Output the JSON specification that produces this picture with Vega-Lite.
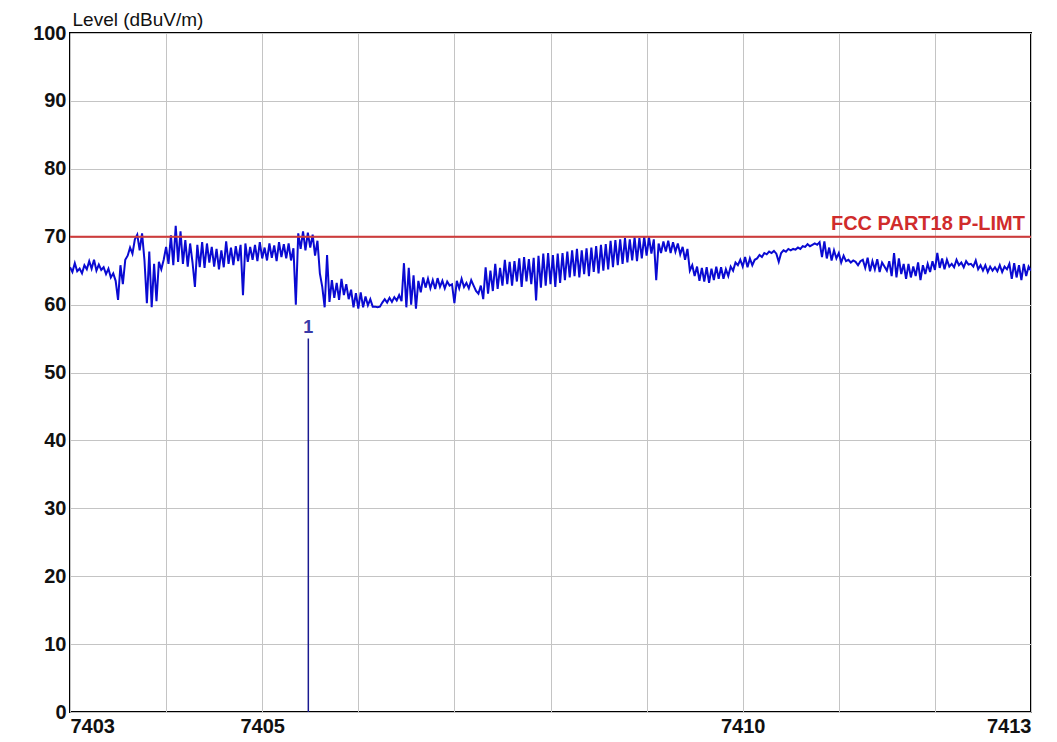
{
  "$schema": "https://vega.github.io/schema/vega-lite/v6.json",
  "width": 961,
  "height": 679,
  "autosize": {"type": "none"},
  "padding": {"left": 70, "top": 33, "right": 26, "bottom": 30},
  "background": "white",
  "config": {
    "view": {"stroke": "black", "strokeWidth": 2},
    "axis": {"labelFont": "Liberation Sans", "labelFontWeight": "bold", "labelFontSize": 20, "labelColor": "#111", "gridColor": "#c4c4c4", "gridWidth": 1, "gridOpacity": 1, "ticks": false, "domain": false}
  },
  "datasets": {
    "trace": [
{"f":7403.000,"v":65.5},{"f":7403.025,"v":64.8},{"f":7403.050,"v":66.1},{"f":7403.075,"v":64.9},
{"f":7403.100,"v":65.3},{"f":7403.125,"v":64.6},{"f":7403.150,"v":65.8},{"f":7403.175,"v":65.2},
{"f":7403.200,"v":66.4},{"f":7403.225,"v":65.3},{"f":7403.250,"v":66.6},{"f":7403.275,"v":65.0},
{"f":7403.300,"v":65.9},{"f":7403.325,"v":65.1},{"f":7403.350,"v":65.5},{"f":7403.375,"v":64.5},
{"f":7403.400,"v":65.3},{"f":7403.425,"v":64.0},{"f":7403.450,"v":64.6},{"f":7403.475,"v":63.5},
{"f":7403.500,"v":60.7},{"f":7403.525,"v":65.8},{"f":7403.550,"v":63.0},{"f":7403.575,"v":66.6},
{"f":7403.600,"v":67.2},{"f":7403.625,"v":68.4},{"f":7403.650,"v":67.5},{"f":7403.675,"v":69.6},
{"f":7403.700,"v":70.3},{"f":7403.725,"v":68.0},{"f":7403.750,"v":70.5},{"f":7403.775,"v":66.5},
{"f":7403.800,"v":60.2},{"f":7403.825,"v":67.8},{"f":7403.850,"v":59.6},{"f":7403.875,"v":66.0},
{"f":7403.900,"v":60.5},{"f":7403.925,"v":66.3},{"f":7403.950,"v":65.2},{"f":7403.975,"v":66.6},
{"f":7404.000,"v":68.5},{"f":7404.025,"v":66.0},{"f":7404.050,"v":70.2},{"f":7404.075,"v":65.8},
{"f":7404.100,"v":71.6},{"f":7404.125,"v":66.3},{"f":7404.150,"v":70.8},{"f":7404.175,"v":66.0},
{"f":7404.200,"v":69.5},{"f":7404.225,"v":65.6},{"f":7404.250,"v":69.0},{"f":7404.275,"v":66.2},
{"f":7404.300,"v":62.6},{"f":7404.325,"v":68.8},{"f":7404.350,"v":65.5},{"f":7404.375,"v":69.2},
{"f":7404.400,"v":65.4},{"f":7404.425,"v":69.0},{"f":7404.450,"v":66.2},{"f":7404.475,"v":68.5},
{"f":7404.500,"v":65.6},{"f":7404.525,"v":68.2},{"f":7404.550,"v":65.2},{"f":7404.575,"v":68.0},
{"f":7404.600,"v":65.5},{"f":7404.625,"v":69.3},{"f":7404.650,"v":66.0},{"f":7404.675,"v":68.4},
{"f":7404.700,"v":65.8},{"f":7404.725,"v":68.6},{"f":7404.750,"v":66.4},{"f":7404.775,"v":68.8},
{"f":7404.800,"v":61.4},{"f":7404.825,"v":69.0},{"f":7404.850,"v":66.3},{"f":7404.875,"v":68.5},
{"f":7404.900,"v":66.6},{"f":7404.925,"v":68.8},{"f":7404.950,"v":66.4},{"f":7404.975,"v":69.2},
{"f":7405.000,"v":66.8},{"f":7405.025,"v":68.4},{"f":7405.050,"v":66.5},{"f":7405.075,"v":69.0},
{"f":7405.100,"v":66.9},{"f":7405.125,"v":68.7},{"f":7405.150,"v":66.4},{"f":7405.175,"v":69.2},
{"f":7405.200,"v":67.0},{"f":7405.225,"v":68.9},{"f":7405.250,"v":66.8},{"f":7405.275,"v":69.0},
{"f":7405.300,"v":66.5},{"f":7405.325,"v":68.3},{"f":7405.350,"v":60.0},{"f":7405.375,"v":70.5},
{"f":7405.400,"v":68.2},{"f":7405.425,"v":70.8},{"f":7405.450,"v":68.0},{"f":7405.475,"v":70.6},
{"f":7405.500,"v":68.4},{"f":7405.525,"v":70.3},{"f":7405.550,"v":67.2},{"f":7405.575,"v":69.4},
{"f":7405.600,"v":64.6},{"f":7405.625,"v":62.6},{"f":7405.650,"v":59.6},{"f":7405.675,"v":67.3},
{"f":7405.700,"v":60.4},{"f":7405.725,"v":63.6},{"f":7405.750,"v":61.0},{"f":7405.775,"v":63.2},
{"f":7405.800,"v":60.7},{"f":7405.825,"v":63.8},{"f":7405.850,"v":61.4},{"f":7405.875,"v":63.0},
{"f":7405.900,"v":60.8},{"f":7405.925,"v":62.2},{"f":7405.950,"v":59.6},{"f":7405.975,"v":61.7},
{"f":7406.000,"v":59.4},{"f":7406.025,"v":61.8},{"f":7406.050,"v":59.6},{"f":7406.075,"v":61.2},
{"f":7406.100,"v":59.9},{"f":7406.125,"v":60.8},{"f":7406.150,"v":59.7},{"f":7406.175,"v":59.7},
{"f":7406.200,"v":59.6},{"f":7406.225,"v":59.7},{"f":7406.250,"v":60.3},{"f":7406.275,"v":60.8},
{"f":7406.300,"v":60.3},{"f":7406.325,"v":61.0},{"f":7406.350,"v":60.4},{"f":7406.375,"v":61.1},
{"f":7406.400,"v":60.6},{"f":7406.425,"v":61.4},{"f":7406.450,"v":60.5},{"f":7406.475,"v":66.1},
{"f":7406.500,"v":59.6},{"f":7406.525,"v":65.4},{"f":7406.550,"v":60.0},{"f":7406.575,"v":64.3},
{"f":7406.600,"v":59.4},{"f":7406.625,"v":63.5},{"f":7406.650,"v":61.8},{"f":7406.675,"v":64.0},
{"f":7406.700,"v":62.5},{"f":7406.725,"v":63.8},{"f":7406.750,"v":62.4},{"f":7406.775,"v":63.6},
{"f":7406.800,"v":62.3},{"f":7406.825,"v":63.9},{"f":7406.850,"v":62.6},{"f":7406.875,"v":63.5},
{"f":7406.900,"v":62.4},{"f":7406.925,"v":63.4},{"f":7406.950,"v":62.8},{"f":7406.975,"v":63.0},
{"f":7407.000,"v":60.2},{"f":7407.025,"v":63.5},{"f":7407.050,"v":62.4},{"f":7407.075,"v":63.8},
{"f":7407.100,"v":62.6},{"f":7407.125,"v":63.2},{"f":7407.150,"v":62.4},{"f":7407.175,"v":63.6},
{"f":7407.200,"v":62.8},{"f":7407.225,"v":62.0},{"f":7407.250,"v":61.6},{"f":7407.275,"v":62.8},
{"f":7407.300,"v":60.8},{"f":7407.325,"v":65.5},{"f":7407.350,"v":61.6},{"f":7407.375,"v":65.0},
{"f":7407.400,"v":62.0},{"f":7407.425,"v":66.0},{"f":7407.450,"v":62.3},{"f":7407.475,"v":65.4},
{"f":7407.500,"v":62.8},{"f":7407.525,"v":66.6},{"f":7407.550,"v":63.0},{"f":7407.575,"v":66.3},
{"f":7407.600,"v":62.8},{"f":7407.625,"v":66.4},{"f":7407.650,"v":63.4},{"f":7407.675,"v":66.8},
{"f":7407.700,"v":62.6},{"f":7407.725,"v":67.0},{"f":7407.750,"v":63.4},{"f":7407.775,"v":66.7},
{"f":7407.800,"v":63.0},{"f":7407.825,"v":66.9},{"f":7407.850,"v":60.6},{"f":7407.875,"v":67.2},
{"f":7407.900,"v":62.5},{"f":7407.925,"v":67.5},{"f":7407.950,"v":62.8},{"f":7407.975,"v":67.6},
{"f":7408.000,"v":63.0},{"f":7408.025,"v":67.3},{"f":7408.050,"v":62.6},{"f":7408.075,"v":67.5},
{"f":7408.100,"v":63.2},{"f":7408.125,"v":67.6},{"f":7408.150,"v":63.6},{"f":7408.175,"v":67.8},
{"f":7408.200,"v":64.0},{"f":7408.225,"v":68.0},{"f":7408.250,"v":64.2},{"f":7408.275,"v":68.2},
{"f":7408.300,"v":64.0},{"f":7408.325,"v":68.0},{"f":7408.350,"v":64.5},{"f":7408.375,"v":68.3},
{"f":7408.400,"v":64.2},{"f":7408.425,"v":68.4},{"f":7408.450,"v":64.8},{"f":7408.475,"v":68.6},
{"f":7408.500,"v":64.6},{"f":7408.525,"v":68.8},{"f":7408.550,"v":65.0},{"f":7408.575,"v":68.9},
{"f":7408.600,"v":65.2},{"f":7408.625,"v":69.4},{"f":7408.650,"v":65.5},{"f":7408.675,"v":69.5},
{"f":7408.700,"v":65.8},{"f":7408.725,"v":69.6},{"f":7408.750,"v":66.0},{"f":7408.775,"v":69.8},
{"f":7408.800,"v":66.2},{"f":7408.825,"v":69.6},{"f":7408.850,"v":66.5},{"f":7408.875,"v":69.9},
{"f":7408.900,"v":66.4},{"f":7408.925,"v":69.8},{"f":7408.950,"v":66.8},{"f":7408.975,"v":70.0},
{"f":7409.000,"v":67.2},{"f":7409.025,"v":69.9},{"f":7409.050,"v":67.5},{"f":7409.075,"v":69.6},
{"f":7409.100,"v":63.6},{"f":7409.125,"v":69.0},{"f":7409.150,"v":67.6},{"f":7409.175,"v":69.3},
{"f":7409.200,"v":67.8},{"f":7409.225,"v":69.4},{"f":7409.250,"v":67.6},{"f":7409.275,"v":69.2},
{"f":7409.300,"v":67.8},{"f":7409.325,"v":69.0},{"f":7409.350,"v":67.4},{"f":7409.375,"v":68.5},
{"f":7409.400,"v":66.6},{"f":7409.425,"v":68.2},{"f":7409.450,"v":65.0},{"f":7409.475,"v":65.8},
{"f":7409.500,"v":64.2},{"f":7409.525,"v":65.6},{"f":7409.550,"v":63.5},{"f":7409.575,"v":65.4},
{"f":7409.600,"v":63.4},{"f":7409.625,"v":65.5},{"f":7409.650,"v":63.2},{"f":7409.675,"v":65.3},
{"f":7409.700,"v":63.6},{"f":7409.725,"v":65.6},{"f":7409.750,"v":63.8},{"f":7409.775,"v":65.5},
{"f":7409.800,"v":63.8},{"f":7409.825,"v":65.2},{"f":7409.850,"v":64.2},{"f":7409.875,"v":65.6},
{"f":7409.900,"v":65.0},{"f":7409.925,"v":66.2},{"f":7409.950,"v":65.8},{"f":7409.975,"v":66.6},
{"f":7410.000,"v":65.6},{"f":7410.025,"v":67.0},{"f":7410.050,"v":65.5},{"f":7410.075,"v":66.8},
{"f":7410.100,"v":65.8},{"f":7410.125,"v":66.6},{"f":7410.150,"v":66.8},{"f":7410.175,"v":67.3},
{"f":7410.200,"v":67.0},{"f":7410.225,"v":67.6},{"f":7410.250,"v":67.4},{"f":7410.275,"v":67.8},
{"f":7410.300,"v":67.6},{"f":7410.325,"v":67.9},{"f":7410.350,"v":67.5},{"f":7410.375,"v":66.3},
{"f":7410.400,"v":67.6},{"f":7410.425,"v":68.0},{"f":7410.450,"v":67.8},{"f":7410.475,"v":68.2},
{"f":7410.500,"v":68.0},{"f":7410.525,"v":68.2},{"f":7410.550,"v":68.1},{"f":7410.575,"v":68.4},
{"f":7410.600,"v":68.2},{"f":7410.625,"v":68.6},{"f":7410.650,"v":68.5},{"f":7410.675,"v":68.9},
{"f":7410.700,"v":68.6},{"f":7410.725,"v":68.8},{"f":7410.750,"v":69.0},{"f":7410.775,"v":68.8},
{"f":7410.800,"v":69.2},{"f":7410.825,"v":67.0},{"f":7410.850,"v":69.3},{"f":7410.875,"v":66.8},
{"f":7410.900,"v":68.4},{"f":7410.925,"v":66.5},{"f":7410.950,"v":68.0},{"f":7410.975,"v":66.8},
{"f":7411.000,"v":67.6},{"f":7411.025,"v":66.2},{"f":7411.050,"v":67.2},{"f":7411.075,"v":66.4},
{"f":7411.100,"v":66.6},{"f":7411.125,"v":66.2},{"f":7411.150,"v":66.5},{"f":7411.175,"v":66.3},
{"f":7411.200,"v":65.8},{"f":7411.225,"v":66.4},{"f":7411.250,"v":66.6},{"f":7411.275,"v":65.4},
{"f":7411.300,"v":66.9},{"f":7411.325,"v":64.9},{"f":7411.350,"v":66.4},{"f":7411.375,"v":65.2},
{"f":7411.400,"v":66.7},{"f":7411.425,"v":64.8},{"f":7411.450,"v":66.2},{"f":7411.475,"v":65.6},
{"f":7411.500,"v":65.0},{"f":7411.525,"v":66.4},{"f":7411.550,"v":64.2},{"f":7411.575,"v":67.6},
{"f":7411.600,"v":64.0},{"f":7411.625,"v":66.8},{"f":7411.650,"v":64.5},{"f":7411.675,"v":66.0},
{"f":7411.700,"v":63.8},{"f":7411.725,"v":66.0},{"f":7411.750,"v":64.0},{"f":7411.775,"v":65.6},
{"f":7411.800,"v":64.2},{"f":7411.825,"v":66.2},{"f":7411.850,"v":63.6},{"f":7411.875,"v":65.8},
{"f":7411.900,"v":64.5},{"f":7411.925,"v":66.0},{"f":7411.950,"v":64.8},{"f":7411.975,"v":66.4},
{"f":7412.000,"v":65.1},{"f":7412.025,"v":67.6},{"f":7412.050,"v":65.4},{"f":7412.075,"v":66.8},
{"f":7412.100,"v":65.2},{"f":7412.125,"v":66.6},{"f":7412.150,"v":65.6},{"f":7412.175,"v":66.0},
{"f":7412.200,"v":65.5},{"f":7412.225,"v":66.6},{"f":7412.250,"v":65.8},{"f":7412.275,"v":66.2},
{"f":7412.300,"v":65.5},{"f":7412.325,"v":66.4},{"f":7412.350,"v":65.9},{"f":7412.375,"v":66.0},
{"f":7412.400,"v":65.6},{"f":7412.425,"v":66.5},{"f":7412.450,"v":65.2},{"f":7412.475,"v":65.8},
{"f":7412.500,"v":65.0},{"f":7412.525,"v":65.8},{"f":7412.550,"v":64.8},{"f":7412.575,"v":65.6},
{"f":7412.600,"v":65.0},{"f":7412.625,"v":65.5},{"f":7412.650,"v":64.9},{"f":7412.675,"v":65.8},
{"f":7412.700,"v":64.8},{"f":7412.725,"v":65.6},{"f":7412.750,"v":65.2},{"f":7412.775,"v":66.0},
{"f":7412.800,"v":63.8},{"f":7412.825,"v":66.1},{"f":7412.850,"v":64.0},{"f":7412.875,"v":65.8},
{"f":7412.900,"v":63.6},{"f":7412.925,"v":66.0},{"f":7412.950,"v":64.2},{"f":7412.975,"v":65.6},
{"f":7413.000,"v":65.0}
    ],
    "limit": [{"f": 7413, "v": 70, "label": "FCC PART18 P-LIMT"}],
    "marker": [{"f": 7405.48, "v0": 0, "v1": 55, "label": "1"}]
  },
  "layer": [
    {
      "data": {"name": "trace"},
      "mark": {"type": "line", "color": "#0a0ad2", "strokeWidth": 2, "clip": true},
      "encoding": {
        "x": {"field": "f", "type": "quantitative", "scale": {"domain": [7403, 7413], "nice": false, "zero": false},
          "axis": {"title": null, "values": [7403, 7404, 7405, 7406, 7407, 7408, 7409, 7410, 7411, 7412, 7413], "format": "d",
            "labelExpr": "(datum.value == 7403 || datum.value == 7405 || datum.value == 7410 || datum.value == 7413) ? datum.label : ''",
            "labelFlush": true, "labelPadding": 4, "labelOverlap": false}},
        "y": {"field": "v", "type": "quantitative", "scale": {"domain": [0, 100], "nice": false},
          "axis": {"title": "Level (dBuV/m)", "values": [0, 10, 20, 30, 40, 50, 60, 70, 80, 90, 100], "labelPadding": 4,
            "titleAngle": 0, "titleX": 2, "titleY": -8, "titleAlign": "left", "titleBaseline": "alphabetic",
            "titleFont": "Liberation Sans", "titleFontSize": 19, "titleFontWeight": "normal", "titleColor": "#111"}}
      }
    },
    {
      "data": {"name": "limit"},
      "mark": {"type": "rule", "color": "#d03a3a", "strokeWidth": 2},
      "encoding": {"y": {"field": "v", "type": "quantitative"}}
    },
    {
      "data": {"name": "limit"},
      "mark": {"type": "text", "color": "#d02c2c", "font": "Liberation Sans", "fontSize": 20, "fontWeight": "bold", "align": "right", "baseline": "alphabetic", "dx": -6, "dy": -7},
      "encoding": {
        "x": {"field": "f", "type": "quantitative"},
        "y": {"field": "v", "type": "quantitative"},
        "text": {"field": "label"}
      }
    },
    {
      "data": {"name": "marker"},
      "mark": {"type": "rule", "color": "#1a1a90", "strokeWidth": 1.5},
      "encoding": {
        "x": {"field": "f", "type": "quantitative"},
        "y": {"field": "v0", "type": "quantitative"},
        "y2": {"field": "v1"}
      }
    },
    {
      "data": {"name": "marker"},
      "mark": {"type": "text", "color": "#3a3aa8", "font": "Liberation Sans", "fontSize": 18, "fontWeight": "bold", "align": "center", "baseline": "bottom", "dy": -2},
      "encoding": {
        "x": {"field": "f", "type": "quantitative"},
        "y": {"field": "v1", "type": "quantitative"},
        "text": {"field": "label"}
      }
    }
  ]
}
